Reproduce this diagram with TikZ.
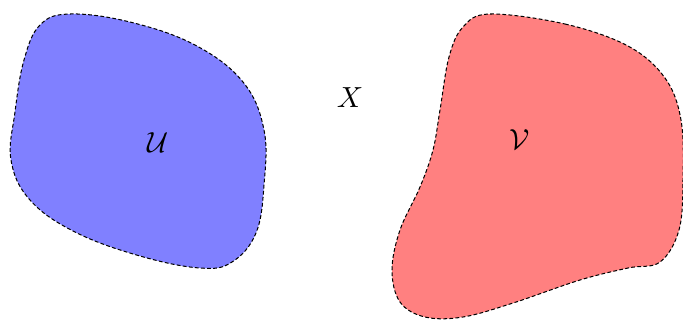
\documentclass[tikz,border=0pt]{standalone}
\begin{document}
\begin{tikzpicture}[x=0.344pt,y=-0.344pt,
  blob/.style={draw=black,line width=0.35pt,dash pattern=on 1.3pt off 0.8pt}]
\useasboundingbox (0,0) rectangle (683,320);
\draw[blob,fill=blue!50] plot[smooth cycle,tension=0.65] coordinates {
  (70,14) (130,22) (195,45) (243,82) (264,130) (264,185) (256,233)
  (232,262) (200,268) (140,256) (75,232) (30,200) (11,160) (15,112) (24,60) (40,25)};
\draw[blob,fill=red!50] plot[smooth cycle,tension=0.6] coordinates {
  (490,14) (565,24) (628,46) (665,78) (681,120) (683,180) (679,230) (660,262) (628,268)
  (580,280) (513,303) (463,317) (425,317) (400,302) (392,270) (400,230)
  (420,187) (433,150) (440,110) (449,57) (463,27)};
\node (U) at (158,143) {$\mathcal{U}$};
\node (V) at (520,140) {$\mathcal{V}$};
\node (X) at (350,98) {$X$};
\end{tikzpicture}
\end{document}
